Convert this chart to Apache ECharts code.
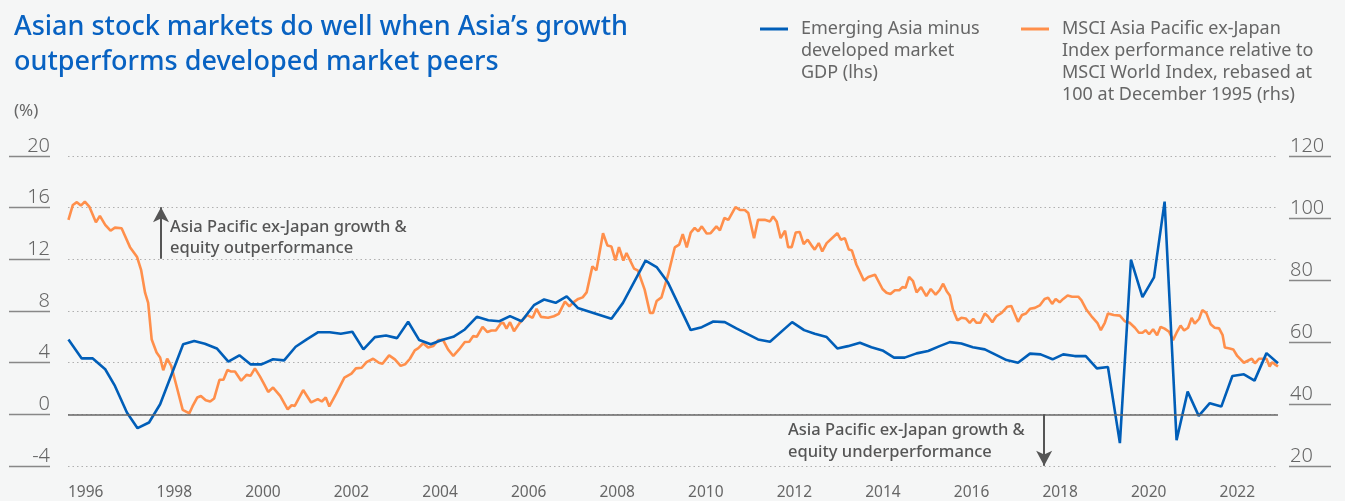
<!DOCTYPE html>
<html>
<head>
<meta charset="utf-8">
<title>Asian stock markets vs growth differential</title>
<script src="https://cdn.jsdelivr.net/npm/echarts@6.0.0/dist/echarts.min.js"></script>
<style>
  html, body { margin: 0; padding: 0; background: #f5f6f6; }
  #chart { width: 1345px; height: 501px; }
</style>
</head>
<body>
<div id="chart"></div>
<script>
// x ticks (years)
var yearTicks = [1996, 1998, 2000, 2002, 2004, 2006, 2008, 2010, 2012, 2014, 2016, 2018, 2020, 2022];

// Emerging Asia minus developed market GDP (lhs, %), decimal years
var gdpDates = [1996.01,1996.31,1996.56,1996.84,1997.06,1997.33,1997.57,1997.83,1998.08,1998.60,
  1998.85,1999.09,1999.36,1999.62,1999.87,2000.12,2000.37,2000.63,2000.88,2001.14,
  2001.39,2001.65,2001.91,2002.16,2002.42,2002.67,2002.93,2003.18,2003.43,2003.68,
  2003.93,2004.19,2004.44,2004.70,2004.96,2005.23,2005.49,2005.74,2005.98,2006.24,
  2006.52,2006.75,2007.01,2007.26,2007.51,2008.27,2008.53,2009.04,2009.29,2009.55,
  2010.06,2010.31,2010.57,2010.83,2011.09,2011.58,2011.85,2012.35,2012.62,2012.86,
  2013.13,2013.37,2013.61,2013.88,2014.14,2014.39,2014.65,2014.89,2015.16,2015.42,
  2015.68,2015.91,2016.17,2016.43,2016.70,2016.93,2017.19,2017.45,2017.72,2017.96,
  2018.23,2018.47,2018.73,2018.98,2019.23,2019.48,2019.75,2020.00,2020.26,2020.52,
  2020.76,2021.03,2021.28,2021.53,2021.78,2022.04,2022.29,2022.55,2022.79,2023.06,
  2023.32];
var gdpDiff = [5.8,4.33,4.33,3.49,2.2,0.14,-1.07,-0.63,0.78,5.42,
  5.67,5.47,5.1,4.08,4.57,3.87,3.87,4.26,4.18,5.23,
  5.8,6.36,6.36,6.24,6.39,5.03,5.98,6.11,5.9,7.17,
  5.75,5.42,5.75,6.0,6.57,7.55,7.29,7.21,7.6,7.21,
  8.45,8.89,8.63,9.14,8.24,7.4,8.63,11.9,11.4,10.18,
  6.52,6.75,7.19,7.14,6.65,5.8,5.62,7.14,6.52,6.24,
  5.98,5.1,5.28,5.54,5.2,4.95,4.39,4.39,4.72,4.9,
  5.28,5.59,5.49,5.2,5.03,4.64,4.2,4.0,4.7,4.64,
  4.26,4.64,4.51,4.51,3.56,3.66,-2.23,11.97,9.07,10.6,
  16.47,-2.0,1.76,-0.12,0.86,0.6,2.97,3.1,2.61,4.74,
  3.95];

// MSCI AP ex-Japan relative to MSCI World, rebased 100 (rhs)
var msciDates = [1996.01,1996.11,1996.20,1996.29,1996.38,1996.48,1996.63,1996.72,1996.84,1996.96,
  1997.06,1997.21,1997.40,1997.56,1997.65,1997.74,1997.81,1997.89,1998.00,1998.08,
  1998.15,1998.24,1998.33,1998.45,1998.59,1998.74,1998.81,1998.92,1999.00,1999.11,
  1999.21,1999.30,1999.42,1999.51,1999.60,1999.67,1999.77,1999.91,2000.03,2000.12,
  2000.22,2000.33,2000.41,2000.52,2000.63,2000.79,2000.96,2001.05,2001.12,2001.31,
  2001.49,2001.64,2001.73,2001.82,2001.90,2002.05,2002.24,2002.40,2002.50,2002.63,
  2002.74,2002.89,2003.02,2003.10,2003.25,2003.38,2003.51,2003.61,2003.72,2003.83,
  2003.91,2004.02,2004.13,2004.25,2004.36,2004.47,2004.58,2004.70,2004.83,2004.96,
  2005.06,2005.15,2005.23,2005.36,2005.47,2005.56,2005.66,2005.77,2005.83,2005.90,
  2005.98,2006.07,2006.20,2006.37,2006.49,2006.58,2006.68,2006.84,2006.97,2007.08,
  2007.22,2007.32,2007.41,2007.52,2007.62,2007.71,2007.84,2007.93,2008.08,2008.18,
  2008.27,2008.36,2008.44,2008.54,2008.61,2008.78,2008.87,2009.02,2009.14,2009.21,
  2009.29,2009.40,2009.55,2009.70,2009.80,2009.88,2009.97,2010.06,2010.15,2010.23,
  2010.31,2010.42,2010.51,2010.64,2010.72,2010.82,2010.91,2011.07,2011.17,2011.28,
  2011.36,2011.49,2011.58,2011.73,2011.85,2011.92,2012.00,2012.09,2012.19,2012.26,
  2012.34,2012.43,2012.52,2012.61,2012.70,2012.79,2012.86,2012.95,2013.03,2013.13,
  2013.37,2013.45,2013.54,2013.63,2013.70,2013.80,2013.97,2014.07,2014.22,2014.39,
  2014.48,2014.57,2014.67,2014.77,2014.84,2014.91,2014.99,2015.08,2015.16,2015.26,
  2015.38,2015.48,2015.59,2015.68,2015.76,2015.84,2015.91,2015.98,2016.08,2016.17,
  2016.27,2016.36,2016.44,2016.51,2016.60,2016.70,2016.77,2016.87,2016.96,2017.08,
  2017.21,2017.30,2017.45,2017.54,2017.63,2017.72,2017.83,2017.94,2018.05,2018.13,
  2018.22,2018.30,2018.39,2018.47,2018.57,2018.67,2018.81,2018.88,2019.00,2019.11,
  2019.24,2019.32,2019.41,2019.48,2019.61,2019.75,2019.86,2019.97,2020.09,2020.18,
  2020.26,2020.33,2020.41,2020.50,2020.59,2020.67,2020.76,2020.86,2020.95,2021.03,
  2021.12,2021.20,2021.29,2021.37,2021.44,2021.54,2021.61,2021.70,2021.80,2021.89,
  2021.99,2022.07,2022.12,2022.23,2022.31,2022.40,2022.55,2022.67,2022.73,2022.80,
  2022.89,2022.98,2023.06,2023.13,2023.19,2023.25,2023.32];
var msciRel = [99.4,104.2,105.1,104.0,105.3,103.7,98.6,100.7,97.8,95.9,
  96.9,96.7,90.6,87.4,83.3,75.9,72.6,60.8,56.6,55.0,
  50.9,54.6,52.3,45.8,38.1,37.0,39.2,42.1,42.6,41.2,
  40.8,41.8,47.8,47.8,51.0,50.5,50.5,47.5,49.4,49.1,
  51.5,49.0,46.9,43.9,45.3,42.6,38.3,39.6,39.4,44.5,
  40.5,41.6,40.8,42.1,39.2,43.2,48.5,49.8,51.5,51.7,
  53.5,54.6,53.3,53.0,55.7,54.4,52.3,52.8,54.6,57.3,
  58.0,59.6,58.2,58.7,60.6,60.6,57.6,55.5,57.6,60.0,
  60.1,61.9,61.7,64.9,63.2,63.7,63.7,66.0,66.2,64.3,
  66.4,63.5,66.2,68.7,67.8,70.7,68.1,67.8,68.3,69.1,
  73.0,71.5,72.8,73.9,74.4,76.0,84.4,83.1,95.1,91.1,
  90.8,86.3,90.6,86.3,88.7,83.7,83.0,76.9,69.4,69.4,
  73.2,74.4,81.7,90.5,91.4,94.8,90.5,95.3,96.8,95.7,
  97.3,95.0,95.1,97.3,96.0,100.0,99.4,103.5,102.6,102.6,
  101.6,93.5,99.4,99.4,98.9,100.5,98.9,93.5,95.9,90.6,
  90.6,95.3,95.5,91.6,93.0,91.1,89.8,91.9,89.2,91.9,
  95.1,93.0,93.5,89.8,89.5,85.0,79.8,81.0,81.7,77.1,
  75.9,75.5,76.7,76.7,77.7,77.5,81.0,79.6,76.0,77.7,
  74.8,77.1,75.3,76.7,78.8,76.4,75.0,70.5,67.0,67.8,
  67.6,66.2,67.5,66.2,66.2,69.2,68.3,66.4,68.3,69.4,
  71.4,71.6,66.5,68.7,69.2,70.7,71.0,71.8,73.9,74.3,
  72.3,73.9,72.8,73.9,75.0,74.6,74.6,73.5,70.3,68.3,
  66.2,63.8,66.2,69.2,68.7,68.5,66.7,66.2,64.6,63.0,
  63.0,63.8,62.5,64.1,62.2,64.9,64.3,63.3,60.6,63.0,
  65.3,63.7,64.6,67.8,65.9,67.5,70.3,69.4,65.7,64.6,
  64.4,62.2,58.2,57.9,57.6,55.5,53.3,54.2,54.6,53.1,
  54.6,54.6,54.6,52.1,53.5,52.8,52.1];

var gdpName = 'Emerging Asia minus developed market GDP (lhs)';
var msciName = 'MSCI Asia Pacific ex-Japan Index performance relative to MSCI World Index, rebased at 100 at December 1995 (rhs)';
var gdpLegend = ['Emerging Asia minus', 'developed market', 'GDP (lhs)'];
var msciLegend = ['MSCI Asia Pacific ex-Japan', 'Index performance relative to', 'MSCI World Index, rebased at', '100 at December 1995 (rhs)'];

var FONT = '"Noto Sans", sans-serif';
var BLUE = '#005eb8';
var ORANGE = '#ff8f4b';
var GREY = '#666';

function pairs(xs, ys) {
  var out = [];
  for (var i = 0; i < xs.length; i++) out.push([xs[i], ys[i]]);
  return out;
}

// legend icon: short bar at the height of the first text line
function legendIcon(h) {
  return 'path://M0,9.5L28,9.5L28,12.5L0,12.5Z M0,0L0.01,0L0,0.01Z M0,' + h + 'L0.01,' + h + 'L0,' + (h - 0.01) + 'Z';
}

var chart = echarts.init(document.getElementById('chart'));

chart.setOption({
  backgroundColor: '#f5f6f6',
  animation: false,
  textStyle: { fontFamily: FONT },
  title: [{
    text: 'Asian stock markets do well when Asia\u2019s growth\noutperforms developed market peers',
    left: 9,
    top: 5,
    textStyle: { color: '#0862c2', fontSize: 27, fontWeight: 500, lineHeight: 35, fontFamily: FONT }
  }, {
    text: '(%)',
    left: 9,
    top: 98,
    textStyle: { color: GREY, fontSize: 17, fontWeight: 400, fontFamily: FONT }
  }],
  legend: [{
    data: [{ name: gdpName, icon: legendIcon(66) }],
    left: 760,
    top: 18,
    padding: 0,
    itemWidth: 28,
    itemHeight: 66,
    symbolKeepAspect: false,
    selectedMode: false,
    formatter: function () { return gdpLegend.join('\n'); },
    textStyle: { color: GREY, fontSize: 18, lineHeight: 22, padding: [0, 0, 0, 8], fontFamily: FONT }
  }, {
    data: [{ name: msciName, icon: legendIcon(88) }],
    left: 1021,
    top: 18,
    padding: 0,
    itemWidth: 28,
    itemHeight: 88,
    symbolKeepAspect: false,
    selectedMode: false,
    formatter: function () { return msciLegend.join('\n'); },
    textStyle: { color: GREY, fontSize: 18, lineHeight: 22, padding: [0, 0, 0, 8], fontFamily: FONT }
  }],
  grid: { left: 68, right: 67, top: 156, bottom: 34 },
  xAxis: {
    type: 'value',
    min: 1996,
    max: 2023.32,
    axisLine: { show: false },
    axisTick: { show: false },
    splitLine: { show: false },
    axisLabel: {
      customValues: yearTicks,
      align: 'left',
      margin: 19,
      color: GREY,
      fontSize: 15.5,
      fontFamily: FONT,
      formatter: function (v) { return String(v); }
    }
  },
  yAxis: [{
    type: 'value',
    position: 'left',
    min: -4,
    max: 20,
    interval: 4,
    offset: 18,
    axisLine: { show: false },
    axisTick: { show: true, length: 41, lineStyle: { color: '#888', width: 1.3 } },
    axisLabel: { margin: 0, color: GREY, fontSize: 20, fontWeight: 300, verticalAlign: 'bottom', fontFamily: FONT },
    splitLine: { show: true, lineStyle: { color: '#b0b0b0', width: 1, type: [1.5, 3] } }
  }, {
    type: 'value',
    position: 'right',
    min: 20,
    max: 120,
    interval: 20,
    offset: 11,
    axisLine: { show: false },
    axisTick: { show: true, length: 42, lineStyle: { color: '#888', width: 1.3 } },
    axisLabel: { margin: 1, color: GREY, fontSize: 20, fontWeight: 300, verticalAlign: 'bottom', fontFamily: FONT },
    splitLine: { show: false }
  }],
  graphic: [{
    type: 'text',
    left: 170,
    top: 217,
    style: {
      text: 'Asia Pacific ex-Japan growth &\nequity outperformance',
      fill: '#555', fontSize: 16.5, fontWeight: 500, fontFamily: FONT, lineHeight: 21
    }
  }, {
    type: 'text',
    left: 788,
    top: 419,
    style: {
      text: 'Asia Pacific ex-Japan growth &\nequity underperformance',
      fill: '#555', fontSize: 16.5, fontWeight: 500, fontFamily: FONT, lineHeight: 22
    }
  }],
  series: [{
    name: msciName,
    type: 'line',
    yAxisIndex: 1,
    data: pairs(msciDates, msciRel),
    showSymbol: false,
    symbol: 'none',
    itemStyle: { color: ORANGE },
    lineStyle: { color: ORANGE, width: 2.6 },
    z: 2
  }, {
    name: gdpName,
    type: 'line',
    yAxisIndex: 0,
    data: pairs(gdpDates, gdpDiff),
    showSymbol: false,
    symbol: 'none',
    itemStyle: { color: BLUE },
    lineStyle: { color: BLUE, width: 2.6 },
    z: 3,
    markLine: {
      silent: true,
      symbol: 'none',
      label: { show: false },
      emphasis: { disabled: true },
      lineStyle: { color: '#666', width: 1.5, type: 'solid' },
      data: [
        { yAxis: 0 },
        [
          { coord: [1998.1, 12.05], symbol: 'none', lineStyle: { color: '#555', width: 2, type: 'solid' } },
          { coord: [1998.1, 16.03], symbol: 'arrow', symbolSize: [12, 15], lineStyle: { color: '#555', width: 2, type: 'solid' } }
        ],
        [
          { coord: [2018.04, 0.001], symbol: 'none', lineStyle: { color: '#555', width: 2, type: 'solid' } },
          { coord: [2018.04, -3.99], symbol: 'arrow', symbolSize: [12, 15], lineStyle: { color: '#555', width: 2, type: 'solid' } }
        ]
      ]
    }
  }]
});
</script>
</body>
</html>
